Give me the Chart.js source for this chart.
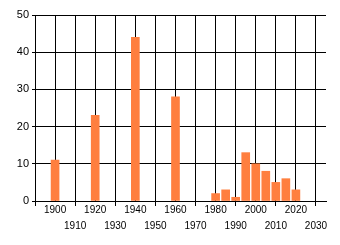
<!DOCTYPE html>
<html>
<head>
<meta charset="utf-8">
<script src="https://cdn.jsdelivr.net/npm/chart.js@4"></script>
<style>
  html, body { margin: 0; padding: 0; background: #fff; }
  #wrap { width: 340px; height: 245px; }
</style>
</head>
<body>
<div id="wrap"><canvas id="chart" width="340" height="245"></canvas></div>
<script>
// years and counts
const years = [1900, 1920, 1940, 1960, 1980, 1985, 1990, 1995, 2000, 2005, 2010, 2015, 2020];
const counts = [11, 23, 44, 28, 2, 3, 1, 13, 10, 8, 5, 6, 3];

const xMin = 1890;
const xMax = 2035;
const yMax = 50;

const points = years.map((y, i) => ({ x: y, y: counts[i] }));

const ctx = document.getElementById('chart').getContext('2d');
new Chart(ctx, {
    type: 'bar',
    data: {
        datasets: [{
            data: points,
            backgroundColor: '#ff7f3f',
            borderWidth: 0,
            barThickness: 8
        }]
    },
    options: {
        responsive: false,
        animation: false,
        layout: { padding: { left: 0, top: 15, right: 14, bottom: 0 } },
        plugins: { legend: { display: false }, tooltip: { enabled: false } },
        scales: {
            x: {
                type: 'linear',
                min: xMin,
                max: xMax,
                offset: false,
                afterFit: scale => { scale.height = 44; },
                afterBuildTicks: scale => {
                    const t = [];
                    for (let v = 1890; v <= 2030; v += 10) t.push({ value: v });
                    scale.ticks = t;
                },
                grid: {
                    offset: false,
                    color: '#000',
                    lineWidth: 1,
                    tickLength: 5,
                    tickColor: c => ((c.tick && (c.tick.value - 1900) % 20 !== 0) ? '#000' : 'rgba(0,0,0,0)')
                },
                border: { color: '#000', width: 1 },
                ticks: {
                    autoSkip: false,
                    maxRotation: 0,
                    padding: -4,
                    color: '#000',
                    font: { family: 'Liberation Sans', size: 10, lineHeight: 1.6 },
                    callback: v => {
                        if (v === 1890) return '';
                        if ((v - 1900) % 20 === 0) return String(v);
                        return ['', String(v)];
                    }
                }
            },
            y: {
                min: 0,
                max: yMax,
                afterFit: scale => { scale.width = 35; },
                grid: { color: '#000', lineWidth: 1, tickLength: 3 },
                border: { color: '#000', width: 1 },
                ticks: {
                    stepSize: 10,
                    padding: 3,
                    color: '#000',
                    font: { family: 'Liberation Sans', size: 11 }
                }
            }
        }
    }
});
</script>
</body>
</html>
